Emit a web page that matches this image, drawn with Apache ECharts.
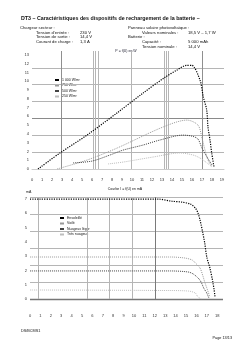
<!DOCTYPE html>
<html><head><meta charset="utf-8">
<script src="https://cdn.jsdelivr.net/npm/echarts@6/dist/echarts.min.js"></script>
<style>html,body{margin:0;padding:0;background:#fff}#c{width:248px;height:351px}</style>
</head><body><div id="c"></div><script>
// ---------- data ----------
const topSeriesNames = ['1 000 W/m²', '750 W/m²', '500 W/m²', '250 W/m²'];
const topCurve1 = [[0.6,0],[2.8,0.95],[5.47,2.0],[8.47,3.31],[11.1,4.5],[13.3,5.44],[14.47,5.86],[15.47,6.15],[15.97,6.15],[16.8,5.27],[17.13,4.28],[17.47,3.5],[17.6,2.49],[17.8,1.72],[17.97,0.95],[18.2,0.12]];
const topCurve2 = [[2.5,0],[5.5,0.53],[8.5,1.24],[13.1,2.49],[15.5,2.9],[16.6,2.6],[17.0,1.83],[17.3,1.12],[17.6,0.53],[18.0,0.12]];
const topCurve3 = [[4.1,0.36],[6.0,0.47],[7.8,0.83],[9.1,1.12],[11.1,1.42],[12.8,1.72],[15.1,2.01],[16.5,1.83],[17.0,1.24],[17.5,0.71],[18.0,0.24]];
const topCurve4 = [[7.6,0.3],[9.1,0.41],[12.1,0.71],[14.8,0.95],[16.1,0.83],[16.8,0.65],[17.5,0.36],[18.0,0.12]];
const topHLines = [1,2,3,4,5,6];
const topVLines = [2.9,6.1,6.3,6.6,9.9,13.2,13.4,13.6,17.0];

const botSeriesNames = ['Ensoleillé', 'Voilé', 'Nuageux léger', 'Très nuageux'];
const botCurve1 = [[0,5.88],[7.3,5.88],[12.3,5.88],[13.65,5.75],[14.6,5.7],[15.4,5.59],[15.9,5.35],[16.15,5.06],[16.35,4.65],[16.6,3.94],[16.8,3.3],[17.0,2.47],[17.3,1.82],[17.6,0.94],[17.8,0.12]];
const botCurve2 = [[0,2.47],[12.0,2.47],[13.5,2.47],[14.9,2.41],[15.6,2.29],[15.9,2.12],[16.35,1.82],[16.6,1.41],[16.8,1.0],[17.0,0.65],[17.3,0.12]];
const botCurve3 = [[0,1.65],[12.0,1.65],[13.5,1.65],[15.2,1.59],[15.7,1.47],[16.25,1.18],[16.5,0.94],[16.7,0.65],[17.0,0.35],[17.2,0.06]];
const botCurve4 = [[0,0.53],[13.0,0.5],[15.2,0.47],[15.9,0.35],[16.15,0.12],[16.5,0]];
const botHLines = [0,1,2,3,4,5,6];
const botVLines = [0.77,5.5,7.6,9.8,12.0];

// ---------- helpers ----------
const FONT = 'Liberation Sans, Arial, sans-serif';
function txt(x, y, s, size, opts) {
  opts = opts || {};
  return {type:'text', x:x, y:y, silent:true, style:{text:s, fontSize:size, fontFamily:FONT,
    fontWeight:opts.bold?'bold':'normal', fill:opts.color||'#111', align:opts.align||'left', verticalAlign:'middle'}};
}
function gridLines(hVals, vVals, hStyle, vStyle) {
  const d = [];
  hVals.forEach(v => d.push({yAxis:v, lineStyle:hStyle(v)}));
  vVals.forEach(v => d.push({xAxis:v, lineStyle:vStyle(v)}));
  return {silent:true, symbol:'none', animation:false, label:{show:false}, data:d};
}
const lineColors = ['#000', '#9a9a9a', '#444', '#bdbdbd'];
function curve(name, data, i, xi, yi, ml) {
  const s = {name:name, type:'line', data:data, xAxisIndex:xi, yAxisIndex:yi, showSymbol:false,
    smooth:0.3, animation:false, z:5,
    lineStyle:{color:lineColors[i], width:i===0?1.2:1, type:'dotted'}, itemStyle:{color:lineColors[i]}};
  if (ml) s.markLine = ml;
  return s;
}
const tickLbl = {fontSize:4, color:'#333', fontFamily:FONT, margin:3};

const chart = echarts.init(document.getElementById('c'), null, {renderer:'canvas'});
chart.setOption({
  backgroundColor:'#fff',
  animation:false,
  grid:[
    {left:32, right:24, top:51, bottom:182},
    {left:30, right:25, top:197, bottom:52}
  ],
  xAxis:[
    {gridIndex:0, type:'value', min:0, max:19.2, interval:1, axisLine:{show:true, lineStyle:{color:'#ccc', width:1}},
      axisTick:{show:false}, splitLine:{show:false}, axisLabel:Object.assign({showMaxLabel:false}, tickLbl, {margin:9})},
    {gridIndex:1, type:'value', min:0, max:18.56, interval:1, axisLine:{show:false},
      axisTick:{show:false}, splitLine:{show:false}, axisLabel:Object.assign({showMaxLabel:false}, tickLbl, {margin:15})}
  ],
  yAxis:[
    {gridIndex:0, type:'value', min:0, max:7, interval:1, axisLine:{show:false}, axisTick:{show:false}, splitLine:{show:false}, axisLabel:{show:false}},
    {gridIndex:0, type:'value', min:0, max:13.45, interval:1, position:'left', axisLine:{show:false}, axisTick:{show:false}, splitLine:{show:false}, axisLabel:Object.assign({showMaxLabel:false}, tickLbl)},
    {gridIndex:1, type:'value', min:0, max:6, interval:1, axisLine:{show:false}, axisTick:{show:false}, splitLine:{show:false}, axisLabel:{show:false}},
    {gridIndex:1, type:'value', min:0, max:7.14, interval:1, position:'left', axisLine:{show:false}, axisTick:{show:false}, splitLine:{show:false}, axisLabel:Object.assign({showMaxLabel:false}, tickLbl)}
  ],
  legend:[
    {data:topSeriesNames, orient:'vertical', left:53, top:77, itemWidth:4, itemHeight:2, itemGap:1.5, padding:[1,3,1,2],
      icon:'rect', backgroundColor:'#fff', textStyle:{fontSize:3.5, fontFamily:FONT, color:'#111', padding:[0,0,0,-2]}},
    {data:botSeriesNames, orient:'vertical', left:58, top:215, itemWidth:4, itemHeight:2, itemGap:1.5, padding:[1,3,1,2],
      icon:'rect', backgroundColor:'#fff', textStyle:{fontSize:3.5, fontFamily:FONT, color:'#111', padding:[0,0,0,-2]}}
  ],
  series:[
    curve(topSeriesNames[0], topCurve1, 0, 0, 0, gridLines(topHLines, topVLines,
      v => ({color: v===3 ? '#8a8a8a' : '#b5b5b5', width:1, type:'solid'}),
      v => ({color: (v===2.9||v===17.0) ? '#8f8f8f' : '#b5b5b5', width:1, type:'solid'}))),
    curve(topSeriesNames[1], topCurve2, 1, 0, 0),
    curve(topSeriesNames[2], topCurve3, 2, 0, 0),
    curve(topSeriesNames[3], topCurve4, 3, 0, 0),
    curve(botSeriesNames[0], botCurve1, 0, 1, 2, gridLines(botHLines, botVLines,
      v => ({color: v===0 ? '#777' : '#b5b5b5', width: v===0 ? 1.3 : 1, type:'solid'}),
      v => ({color: v===12.0 ? '#7a7a7a' : '#b5b5b5', width:1, type:'solid'}))),
    curve(botSeriesNames[1], botCurve2, 1, 1, 2),
    curve(botSeriesNames[2], botCurve3, 2, 1, 2),
    curve(botSeriesNames[3], botCurve4, 3, 1, 2)
  ],
  graphic:[
    txt(21, 19, 'DT3 – Caractéristiques des dispositifs de rechargement de la batterie –', 5.3, {bold:true}),
    txt(20, 27.5, 'Chargeur secteur :', 4.2),
    txt(36, 32.5, 'Tension d\u2019entrée :', 4.2), txt(80, 32.5, '230 V', 4.2),
    txt(36, 37, 'Tension de sortie :', 4.2), txt(80, 37, '14,4 V', 4.2),
    txt(36, 41.7, 'Courant de charge :', 4.2), txt(80, 41.7, '1,3 A', 4.2),
    txt(128, 27.5, 'Panneau solaire photovoltaïque :', 4.2),
    txt(142, 32.5, 'Valeurs nominales :', 4.2), txt(188, 32.5, '18,5 V – 1,7 W', 4.2),
    txt(128, 37, 'Batterie :', 4.2),
    txt(142, 42, 'Capacité :', 4.2), txt(188, 42, '5 000 mAh', 4.2),
    txt(142, 46.7, 'Tension nominale :', 4.2), txt(188, 46.7, '14,4 V', 4.2),
    txt(126, 51.5, 'P = f(U) en W', 3.5, {align:'center', color:'#223'}),
    txt(125, 189, 'Courbe I = f(U) en mA', 3.5, {align:'center', color:'#111'}),
    txt(26, 192, 'mA', 3.5),
    txt(21, 331, 'DS/BCMS1', 3.8),
    txt(232, 338, 'Page 13/13', 3.8, {align:'right'})
  ]
});
</script></body></html>
